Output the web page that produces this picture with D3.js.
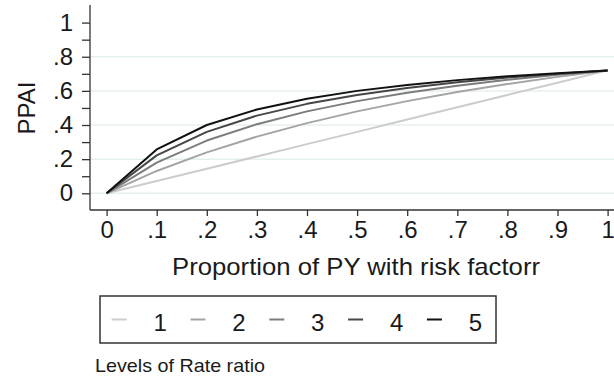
<!DOCTYPE html>
<html>
<head>
<meta charset="utf-8">
<script src="https://cdn.jsdelivr.net/npm/d3@7"></script>
<style>
  html, body { margin: 0; padding: 0; background: #fff; }
  svg { display: block; }
  text { font-family: "Liberation Sans", Arial, sans-serif; fill: #1a1a1a; }
</style>
</head>
<body>
<svg id="chart" width="614" height="381"></svg>
<script>
// ---- data ----
const pyProp = [0, 0.1, 0.2, 0.3, 0.4, 0.5, 0.6, 0.7, 0.8, 0.9, 1.0];
const level1 = [0, 0.072, 0.144, 0.216, 0.288, 0.360, 0.432, 0.504, 0.576, 0.648, 0.720];
const level2 = [0, 0.131, 0.240, 0.332, 0.411, 0.480, 0.540, 0.593, 0.640, 0.682, 0.720];
const level3 = [0, 0.180, 0.309, 0.405, 0.480, 0.540, 0.589, 0.630, 0.665, 0.694, 0.720];
const level4 = [0, 0.222, 0.360, 0.455, 0.524, 0.576, 0.617, 0.650, 0.678, 0.701, 0.720];
const level5 = [0, 0.257, 0.400, 0.491, 0.554, 0.600, 0.635, 0.663, 0.686, 0.704, 0.720];
const levelNames = ["1", "2", "3", "4", "5"];
const seriesValues = [level1, level2, level3, level4, level5];
const xTicks = [0, 0.1, 0.2, 0.3, 0.4, 0.5, 0.6, 0.7, 0.8, 0.9, 1];
const yLabelTicks = [0, 0.2, 0.4, 0.6, 0.8, 1];
const yMinorTicks = [0.1, 0.3, 0.5, 0.7, 0.9];
const gridTicks = [0, 0.2, 0.4, 0.6, 0.8];
const fmt = v => v === 0 ? "0" : v === 1 ? "1" : String(+v.toFixed(1)).replace(/^0/, "");

// ---- styles ----
const colors = ["#cccccc", "#a4a4a4", "#7c7c7c", "#464646", "#111111"];
const FS = 24;

const svg = d3.select("#chart");
const x = d3.scaleLinear().domain([0, 1]).range([106.6, 607.6]);
const y = d3.scaleLinear().domain([0, 1]).range([193.3, 22.6]);

const axisLeftX = 90, axisBottomY = 210, plotTop = 5, plotRight = 614;

// gridlines
svg.append("g").selectAll("line").data(gridTicks).join("line")
  .attr("x1", axisLeftX).attr("x2", plotRight)
  .attr("y1", d => y(d)).attr("y2", d => y(d))
  .attr("stroke", "#e4efef").attr("stroke-width", 1.5);

// y axis
const yAxis = d3.axisLeft(y).tickValues(yLabelTicks).tickFormat(fmt).tickSize(8).tickPadding(9);
const gy = svg.append("g").attr("transform", `translate(${axisLeftX},0)`).call(yAxis);
gy.select(".domain").remove();
gy.selectAll(".tick line").attr("stroke", "#333").attr("stroke-width", 1.3);
gy.selectAll(".tick text").attr("font-size", FS).attr("fill", "#1a1a1a")
  .attr("font-family", "Liberation Sans, Arial, sans-serif");
const gym = svg.append("g").attr("transform", `translate(${axisLeftX},0)`)
  .call(d3.axisLeft(y).tickValues(yMinorTicks).tickFormat("").tickSize(8));
gym.select(".domain").remove();
gym.selectAll(".tick line").attr("stroke", "#333").attr("stroke-width", 1.3);
svg.append("line").attr("x1", axisLeftX).attr("x2", axisLeftX)
  .attr("y1", plotTop).attr("y2", axisBottomY).attr("stroke", "#333").attr("stroke-width", 1.3);

// x axis
const xAxis = d3.axisBottom(x).tickValues(xTicks).tickFormat(fmt).tickSize(6).tickPadding(5);
const gx = svg.append("g").attr("transform", `translate(0,${axisBottomY})`).call(xAxis);
gx.select(".domain").remove();
gx.selectAll(".tick line").attr("stroke", "#333").attr("stroke-width", 1.3);
gx.selectAll(".tick text").attr("font-size", FS).attr("fill", "#1a1a1a")
  .attr("font-family", "Liberation Sans, Arial, sans-serif");
svg.append("line").attr("x1", axisLeftX).attr("x2", plotRight)
  .attr("y1", axisBottomY).attr("y2", axisBottomY).attr("stroke", "#333").attr("stroke-width", 1.3);

// axis titles
svg.append("text").attr("x", 356).attr("y", 275).attr("text-anchor", "middle")
  .attr("font-size", FS).attr("textLength", 368).attr("lengthAdjust", "spacingAndGlyphs")
  .text("Proportion of PY with risk factorr");
svg.append("text").attr("transform", "translate(35,108) rotate(-90)").attr("text-anchor", "middle")
  .attr("font-size", FS).text("PPAI");

// lines
const line = d3.line().x((d, i) => x(pyProp[i])).y(d => y(d));
svg.append("g").selectAll("path").data(seriesValues).join("path")
  .attr("d", d => line(d)).attr("fill", "none")
  .attr("stroke", (d, i) => colors[i]).attr("stroke-width", 2)
  .attr("stroke-linejoin", "round");

// legend
svg.append("rect").attr("x", 100).attr("y", 296).attr("width", 396).attr("height", 47)
  .attr("fill", "#fff").attr("stroke", "#333").attr("stroke-width", 1.5);
const leg = svg.append("g").selectAll("g").data(levelNames).join("g")
  .attr("transform", (d, i) => `translate(${111.7 + i * 78.8},0)`);
leg.append("line").attr("x1", 0).attr("x2", 15).attr("y1", 319.5).attr("y2", 319.5)
  .attr("stroke", (d, i) => colors[i]).attr("stroke-width", 2);
leg.append("text").attr("x", 48.5).attr("y", 330.5).attr("text-anchor", "middle")
  .attr("font-size", FS).text(d => d);

svg.append("text").attr("x", 95).attr("y", 371.5).attr("font-size", 18.5)
  .attr("textLength", 170).attr("lengthAdjust", "spacingAndGlyphs")
  .text("Levels of Rate ratio");
</script>
</body>
</html>
